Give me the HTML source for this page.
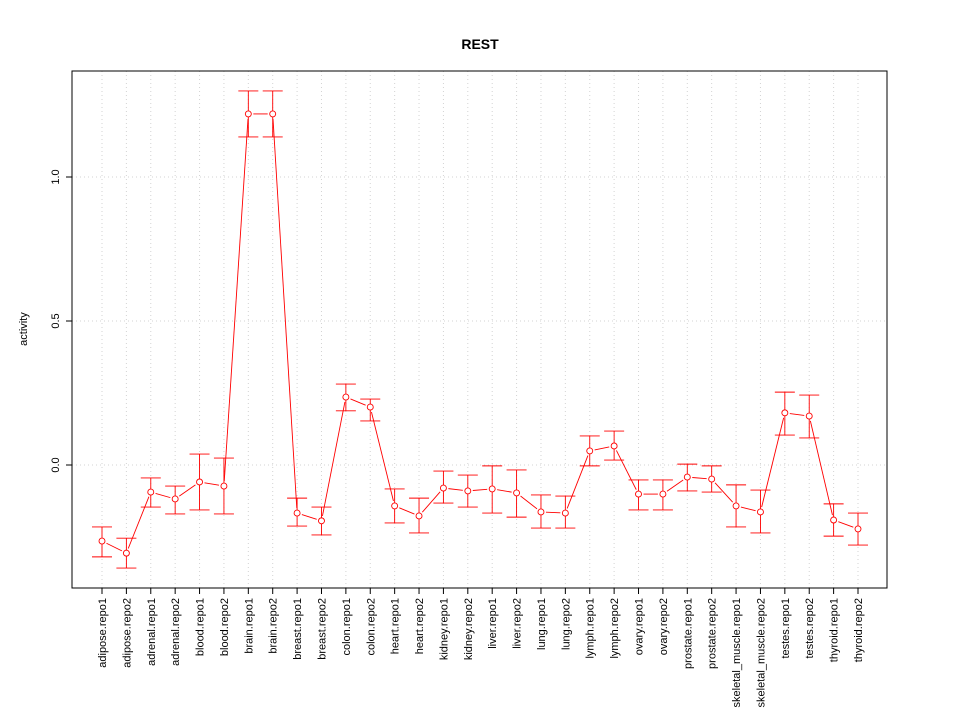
<!DOCTYPE html>
<html><head><meta charset="utf-8"><style>body{margin:0;background:#fff}svg{display:block}</style></head>
<body>
<svg id="chart" width="960" height="720" xmlns="http://www.w3.org/2000/svg" font-family="Liberation Sans, sans-serif">
<text x="480" y="49" text-anchor="middle" font-size="14" font-weight="bold">REST</text>
<text transform="translate(27,329) rotate(-90)" text-anchor="middle" font-size="11">activity</text>
<g id="grid"></g><g id="axes"></g><g id="marks"></g>
</svg>
<script>
const categories=["adipose.repo1","adipose.repo2","adrenal.repo1","adrenal.repo2","blood.repo1","blood.repo2","brain.repo1","brain.repo2","breast.repo1","breast.repo2","colon.repo1","colon.repo2","heart.repo1","heart.repo2","kidney.repo1","kidney.repo2","liver.repo1","liver.repo2","lung.repo1","lung.repo2","lymph.repo1","lymph.repo2","ovary.repo1","ovary.repo2","prostate.repo1","prostate.repo2","skeletal_muscle.repo1","skeletal_muscle.repo2","testes.repo1","testes.repo2","thyroid.repo1","thyroid.repo2"];
const values=[-0.264,-0.306,-0.094,-0.118,-0.059,-0.073,1.219,1.219,-0.167,-0.194,0.236,0.201,-0.142,-0.177,-0.080,-0.090,-0.083,-0.097,-0.163,-0.167,0.049,0.066,-0.101,-0.101,-0.042,-0.049,-0.142,-0.163,0.181,0.170,-0.191,-0.222];
const upper=[-0.215,-0.254,-0.045,-0.073,0.038,0.024,1.299,1.299,-0.115,-0.146,0.281,0.229,-0.083,-0.115,-0.021,-0.035,-0.003,-0.017,-0.104,-0.108,0.101,0.118,-0.052,-0.052,0.003,-0.003,-0.069,-0.087,0.253,0.243,-0.135,-0.167];
const lower=[-0.319,-0.358,-0.146,-0.170,-0.156,-0.170,1.139,1.139,-0.212,-0.243,0.188,0.153,-0.201,-0.236,-0.132,-0.146,-0.167,-0.181,-0.219,-0.219,-0.003,0.017,-0.156,-0.156,-0.090,-0.094,-0.215,-0.236,0.104,0.094,-0.247,-0.278];
const yTicks=[0,0.5,1.0];
const yTickLabels=["0.0","0.5","1.0"];
const NS="http://www.w3.org/2000/svg";
const L=72,R=887,T=71,B=588;
function xs(i){return 102+i*(858-102)/(categories.length-1);}
function ys(v){return 465-v*288;}
function mk(tag,attrs,parent){const e=document.createElementNS(NS,tag);for(const k in attrs)e.setAttribute(k,attrs[k]);parent.appendChild(e);return e;}
const grid=document.getElementById('grid'),axes=document.getElementById('axes'),marks=document.getElementById('marks');
categories.forEach((c,i)=>{
 const g=mk('line',{x1:xs(i),x2:xs(i),y1:T,y2:B,stroke:'#d3d3d3','stroke-dasharray':'1,3'},grid);
 
 
 const t=mk('line',{x1:xs(i),x2:xs(i),y1:B,y2:B+6,stroke:'#000'},axes);
 
 
 const lb=mk('text',{transform:`translate(${xs(i)+4},${B+10}) rotate(-90)`,'text-anchor':'end','font-size':'11'},axes);
 lb.textContent=c;
 
 
});
yTicks.forEach((v,i)=>{
 const g=mk('line',{x1:L,x2:R,y1:ys(v),y2:ys(v),stroke:'#d3d3d3','stroke-dasharray':'1,3'},grid);
 
 
 const t=mk('line',{x1:L-6,x2:L,y1:ys(v),y2:ys(v),stroke:'#000'},axes);
 
 
 const lb=mk('text',{transform:`translate(${L-13},${ys(v)}) rotate(-90)`,'text-anchor':'middle','font-size':'11'},axes);
 lb.textContent=yTickLabels[i];
 
 
});
const box=mk('rect',{x:L,y:T,width:R-L,height:B-T,fill:'none',stroke:'#000'},axes);


const gap=5;
for(let i=0;i<values.length-1;i++){
 const x1=xs(i),y1=ys(values[i]),x2=xs(i+1),y2=ys(values[i+1]);
 const d=Math.hypot(x2-x1,y2-y1);
 if(d<=2*gap)continue;
 const ux=(x2-x1)/d,uy=(y2-y1)/d;
 const s=mk('line',{x1:x1+ux*gap,y1:y1+uy*gap,x2:x2-ux*gap,y2:y2-uy*gap,stroke:'#ff0000','stroke-width':0.9},marks);
 
 
}
values.forEach((v,i)=>{
 const x=xs(i);
 const e=mk('path',{d:`M${x},${ys(lower[i])}V${ys(upper[i])}M${x-10},${ys(lower[i])}H${x+10}M${x-10},${ys(upper[i])}H${x+10}`,stroke:'#ff0000',fill:'none','stroke-width':0.9},marks);
 
 
 const c=mk('circle',{cx:x,cy:ys(v),r:3,fill:'#fff',stroke:'#ff0000','stroke-width':0.9},marks);
 
 
});
</script>
</body></html>
